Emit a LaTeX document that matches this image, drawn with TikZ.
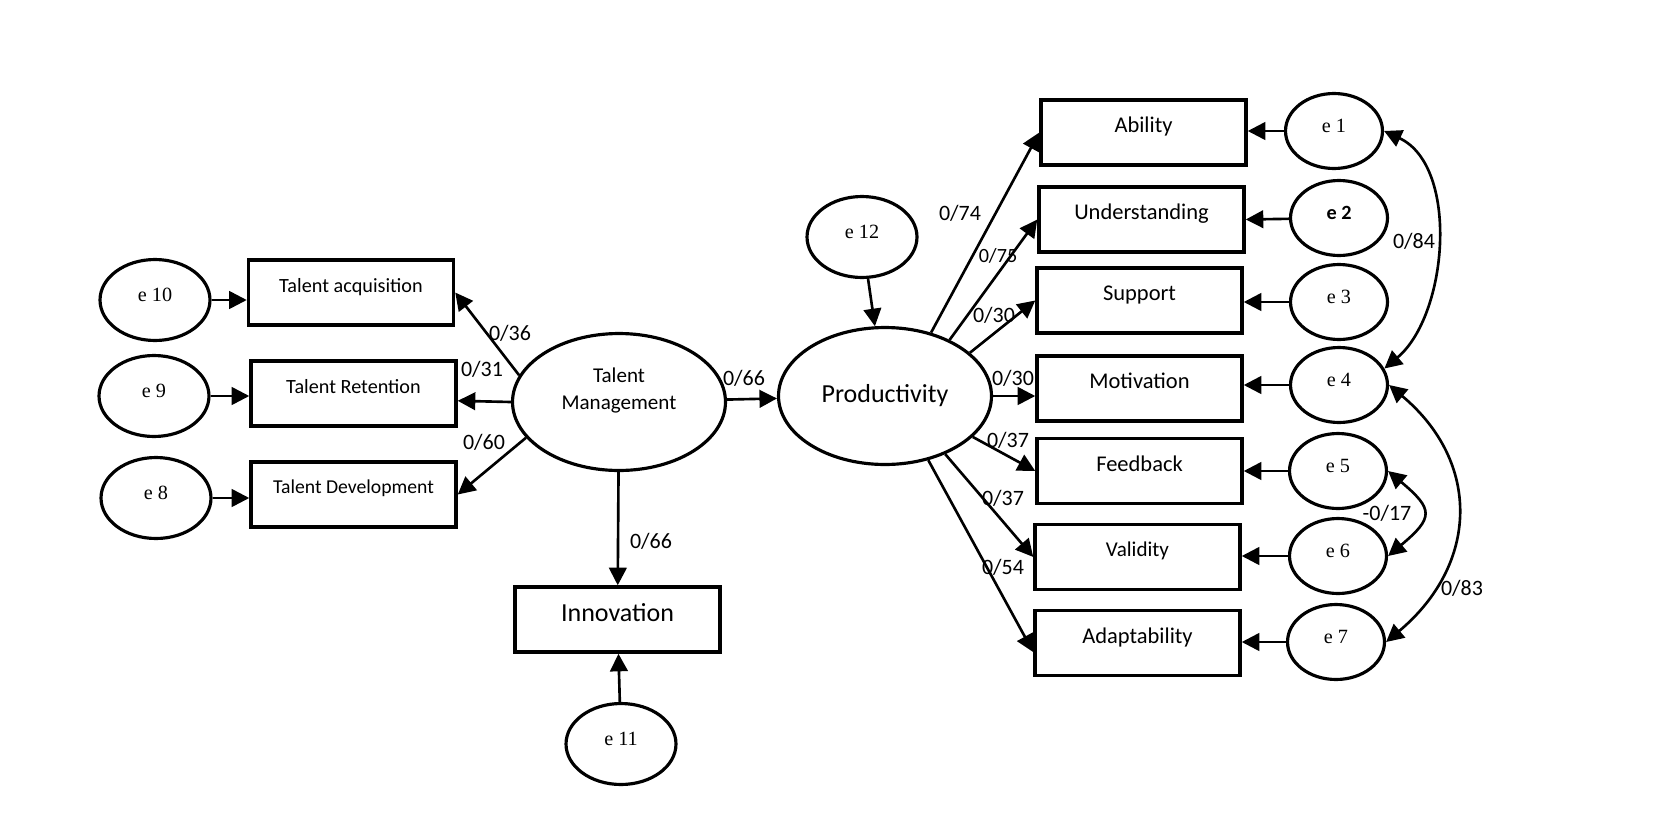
\documentclass[tikz,border=0pt]{standalone}
\usepackage{fontspec}
\setmainfont{Carlito}
\newfontfamily\timesfont{Liberation Serif}
\usetikzlibrary{arrows.meta,shapes.geometric}

\tikzset{
  box/.style={draw, line width=2pt, minimum width=4.1cm, minimum height=1.3cm, inner sep=0pt, text depth=0.3cm, font=\fontsize{12.8}{15}\selectfont},
  talent/.style={box, font=\fontsize{11.5}{13}\selectfont},
  err/.style={draw, ellipse, line width=1.8pt, minimum width=1.94cm, minimum height=1.5cm, inner sep=0pt, text depth=0.2cm, font=\timesfont\fontsize{11.5}{13}\selectfont},
  errl/.style={err, minimum width=2.2cm, minimum height=1.62cm},
  latent/.style={draw, ellipse, line width=1.8pt, minimum width=4.26cm, minimum height=2.74cm, inner sep=0pt},
  arr/.style={line width=1.5pt, -{Triangle[length=10pt,width=10pt]}},
  cov/.style={line width=1.5pt, {Triangle[length=10pt,width=10pt]}-{Triangle[length=10pt,width=10pt]}},
  coef/.style={font=\fontsize{12.5}{14}\selectfont, inner sep=1pt}
}

\begin{document}
\begin{tikzpicture}[x=0.02cm, y=-0.02cm]
    \useasboundingbox (0,0) rectangle (1673,825);

    % Latent variables
    \node[latent, align=center, text depth=0.53cm, font=\fontsize{12}{15}\selectfont] (tm) at (619,402) {Talent\\Management};
    \node[latent, font=\fontsize{14.8}{17}\selectfont] (prod) at (885,396) {Productivity};

    % Talent management indicators
    \node[talent] (acq) at (351,292.5) {Talent acquisition};
    \node[talent] (ret) at (353.5,393.5) {Talent Retention};
    \node[talent, font=\fontsize{11.2}{13}\selectfont] (dev) at (353.5,494.5) {Talent Development};
    \node[errl] (e10) at (155,300) {e 10};
    \node[errl] (e9) at (154,396) {e 9};
    \node[errl] (e8) at (156,498) {e 8};

    % Innovation
    \node[box, font=\fontsize{14.8}{17}\selectfont] (inn) at (617.5,619.5) {Innovation};
    \node[errl] (e11) at (621,744) {e 11};
    \node[errl] (e12) at (862,237) {e 12};

    % Productivity indicators
    \node[box] (abil) at (1143.5,132.5) {Ability};
    \node[box] (und) at (1141.5,219.5) {Understanding};
    \node[box] (sup) at (1139.5,300.5) {Support};
    \node[box] (moti) at (1139.5,388.5) {Motivation};
    \node[box] (fb) at (1139.5,471) {Feedback};
    \node[box, font=\fontsize{12}{14}\selectfont] (val) at (1137.5,557) {Validity};
    \node[box] (adap) at (1137.5,643) {Adaptability};
    \node[err] (e1) at (1334,131) {e 1};
    \node[err, font=\bfseries\fontsize{11.5}{13}\selectfont] (e2) at (1339,218) {e 2};
    \node[err] (e3) at (1339,302) {e 3};
    \node[err] (e4) at (1339,385) {e 4};
    \node[err] (e5) at (1338,471) {e 5};
    \node[err] (e6) at (1338,556) {e 6};
    \node[err] (e7) at (1336,642) {e 7};

    % Error paths
    \draw[arr] (e10) -- (e10 -| acq.west);
    \draw[arr] (e9) -- (e9 -| ret.west);
    \draw[arr] (e8) -- (e8 -| dev.west);
    \draw[arr] (e11) -- (inn);
    \draw[arr] (e12) -- (prod);
    \draw[arr] (e1) -- (e1 -| abil.east);
    \draw[arr] (e2) -- (und.east);
    \draw[arr] (e3) -- (e3 -| sup.east);
    \draw[arr] (e4) -- (e4 -| moti.east);
    \draw[arr] (e5) -- (e5 -| fb.east);
    \draw[arr] (e6) -- (e6 -| val.east);
    \draw[arr] (e7) -- (e7 -| adap.east);

    % Loadings
    \draw[arr] (tm.165) -- (acq.east);
    \draw[arr] (tm.west) -- (ret.-4);
    \draw[arr] (tm.201) -- (dev.east);
    \draw[arr] (tm) -- (prod);
    \draw[arr] (tm) -- (inn);
    \draw[arr] (prod.54) -- (abil.west);
    \draw[arr] (prod.41) -- (und.west);
    \draw[arr] (prod.27) -- (sup.west);
    \draw[arr] (prod) -- (prod -| moti.west);
    \draw[arr] (prod.-25) -- (fb.west);
    \draw[arr] (prod.-44) -- (val.west);
    \draw[arr] (prod.-56) -- (adap.-175);

    % Covariances
    \draw[cov] (e1.east) to[out=-25, in=40, looseness=0.9] (e4.20);
    \draw[cov] (e4.east) to[out=-40, in=40, looseness=1.2] (e7.east);
    \draw[cov] (e5.east) to[bend left=50, looseness=1.8] (e6.east);

    % Coefficients
    \node[coef] (c1) at (510,333) {0/36};
    \node[coef] (c2) at (482,369) {0/31};
    \node[coef] (c3) at (484,442) {0/60};
    \node[coef] (c4) at (744,378) {0/66};
    \node[coef] (c5) at (651,541) {0/66};
    \node[coef] (c6) at (960,213) {0/74};
    \node[coef, font=\fontsize{11.5}{13}\selectfont] (c7) at (998,256) {0/75};
    \node[coef] (c8) at (994,315) {0/30};
    \node[coef] (c9) at (1013,378) {0/30};
    \node[coef] (c10) at (1008,440) {0/37};
    \node[coef] (c11) at (1003,498) {0/37};
    \node[coef] (c12) at (1003,567) {0/54};
    \node[coef] (c13) at (1414,241) {0/84};
    \node[coef] (c14) at (1387,513) {-0/17};
    \node[coef] (c15) at (1462,588) {0/83};
\end{tikzpicture}
\end{document}
